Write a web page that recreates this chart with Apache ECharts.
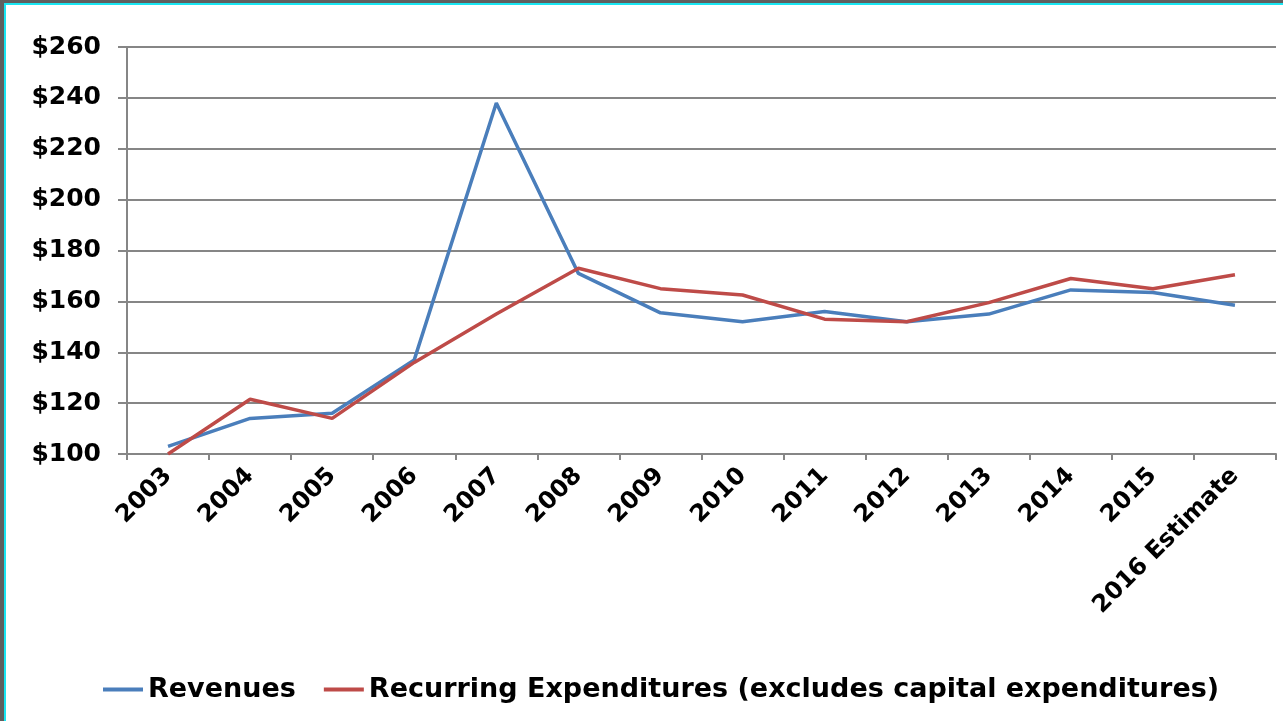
<!DOCTYPE html>
<html>
<head>
<meta charset="utf-8">
<script src="https://cdn.jsdelivr.net/npm/echarts@6/dist/echarts.min.js"></script>
<style>
html,body{margin:0;padding:0;width:1283px;height:721px;overflow:hidden;background:#fff;}
#chart{position:absolute;left:0;top:0;width:1283px;height:721px;}
.g1{position:absolute;background:#5f5f5f;pointer-events:none;}
.c1{position:absolute;background:#19e6f2;pointer-events:none;}
</style>
</head>
<body>
<div id="chart"></div>
<div class="g1" style="left:0;top:0;width:1283px;height:3px;"></div>
<div class="g1" style="left:0;top:0;width:4px;height:721px;"></div>
<div class="c1" style="left:4px;top:3px;width:1279px;height:2px;"></div>
<div class="c1" style="left:4px;top:3px;width:2px;height:718px;"></div>
<script>
var categories = ['2003','2004','2005','2006','2007','2008','2009','2010','2011','2012','2013','2014','2015','2016 Estimate'];
var revenues = [103, 114, 116, 137, 238, 171, 155.5, 152, 156, 152, 155, 164.5, 163.5, 158.5];
var expenditures = [100, 121.5, 114, 136, 155, 173, 165, 162.5, 153, 152, 159.5, 169, 165, 170.5];
var yTicks = [100, 120, 140, 160, 180, 200, 220, 240, 260];

var chart = echarts.init(document.getElementById('chart'));
var font = 'DejaVu Sans';
chart.setOption({
  animation: false,
  backgroundColor: '#ffffff',
  grid: {left: 127, right: 7, top: 47, bottom: 267, containLabel: false},
  legend: {
    bottom: 13, left: 98,
    icon: 'rect', itemWidth: 40, itemHeight: 4, itemGap: 28,
    textStyle: {fontFamily: font, fontWeight: 'bold', fontSize: 27, color: '#000'},
    data: ['Revenues', 'Recurring Expenditures (excludes capital expenditures)']
  },
  xAxis: {
    type: 'category',
    data: categories,
    boundaryGap: true,
    axisLine: {lineStyle: {color: '#868686', width: 2}},
    axisTick: {show: true, length: 6, lineStyle: {color: '#868686', width: 2}},
    axisLabel: {rotate: 45, margin: 18, fontFamily: font, fontWeight: 'bold', fontSize: 24, color: '#000'}
  },
  yAxis: {
    type: 'value',
    min: yTicks[0], max: yTicks[yTicks.length-1], interval: 20,
    axisLine: {show: true, lineStyle: {color: '#868686', width: 2}},
    axisTick: {show: true, length: 9, lineStyle: {color: '#868686', width: 2}},
    splitLine: {lineStyle: {color: '#868686', width: 2}},
    axisLabel: {margin: 26, fontFamily: font, fontWeight: 'bold', fontSize: 25, color: '#000',
      formatter: function(v){ return '$' + v; }}
  },
  series: [
    {name: 'Revenues', type: 'line', data: revenues, symbol: 'none',
     lineStyle: {color: '#4a7ebb', width: 3.5}, itemStyle: {color: '#4a7ebb'}},
    {name: 'Recurring Expenditures (excludes capital expenditures)', type: 'line', data: expenditures, symbol: 'none',
     lineStyle: {color: '#be4b48', width: 3.5}, itemStyle: {color: '#be4b48'}}
  ]
});
</script>
</body>
</html>
